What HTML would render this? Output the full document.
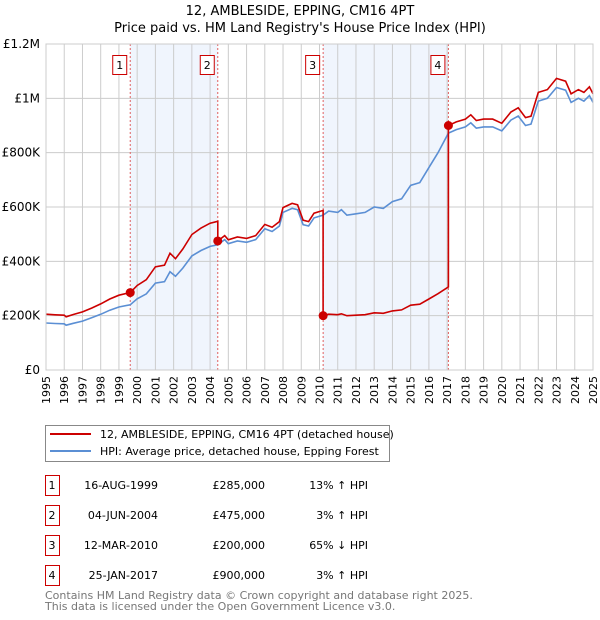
<!DOCTYPE html>
<html><head><meta charset="utf-8"><style>
body{margin:0;background:#fff;font-family:"Liberation Sans","DejaVu Sans",sans-serif;}
#wrap{position:relative;width:600px;height:620px;overflow:hidden}
</style></head><body>
<div id="wrap">
<svg id="svg" width="600" height="620" xmlns="http://www.w3.org/2000/svg" font-family="DejaVu Sans, Liberation Sans, sans-serif">
<text x="300" y="15" text-anchor="middle" font-size="13" fill="#000">12, AMBLESIDE, EPPING, CM16 4PT</text>
<text x="300" y="32" text-anchor="middle" font-size="13" fill="#000">Price paid vs. HM Land Registry's House Price Index (HPI)</text>
<g id="plot"></g>
<g>
<rect x="45.5" y="425.5" width="344" height="36" fill="#fff" stroke="#888"/>
<line x1="50" y1="434" x2="91" y2="434" stroke="#cc0000" stroke-width="2"/>
<text x="100" y="438" font-size="11">12, AMBLESIDE, EPPING, CM16 4PT (detached house)</text>
<line x1="50" y1="451" x2="91" y2="451" stroke="#5b8fd4" stroke-width="2"/>
<text x="100" y="455" font-size="11">HPI: Average price, detached house, Epping Forest</text>
</g>
<g id="table" font-size="11"></g>
<text x="45" y="599" font-size="11" fill="#777">Contains HM Land Registry data © Crown copyright and database right 2025.</text>
<text x="45" y="610" font-size="11" fill="#777">This data is licensed under the Open Government Licence v3.0.</text>
</svg>
</div>
<script>
const hpiYears=[1995,1995.5,1996,1996.1,1996.5,1997,1997.5,1998,1998.5,1999,1999.62,2000,2000.5,2001,2001.5,2001.8,2002.1,2002.5,2003,2003.5,2004,2004.42,2004.8,2005,2005.5,2006,2006.5,2007,2007.4,2007.8,2008,2008.5,2008.8,2009.1,2009.4,2009.7,2010.2,2010.5,2011,2011.2,2011.5,2012,2012.5,2013,2013.5,2014,2014.5,2015,2015.5,2016,2016.5,2017.07,2017.5,2018,2018.3,2018.6,2019,2019.5,2020,2020.5,2020.9,2021.3,2021.6,2022,2022.5,2023,2023.5,2023.8,2024.2,2024.5,2024.8,2025];
const hpiValues=[173,171,170,165,172,180,192,205,220,232,240,262,280,320,325,362,345,375,420,440,455,461,480,465,475,470,480,520,510,530,580,595,590,535,530,560,570,585,580,590,570,575,580,600,595,620,630,680,690,745,800,872,885,895,910,890,895,895,880,920,935,900,905,990,1000,1040,1030,985,1000,990,1010,985];
const saleYears=[1999.62,2004.42,2010.2,2017.07];
const salePrices=[285,475,200,900];
const saleLabels=["1","2","3","4"];
const saleDates=["16-AUG-1999","04-JUN-2004","12-MAR-2010","25-JAN-2017"];
const salePriceText=["£285,000","£475,000","£200,000","£900,000"];
const saleHpiText=["13% ↑ HPI","3% ↑ HPI","65% ↓ HPI","3% ↑ HPI"];
const yTicks=[0,200,400,600,800,1000,1200];
const yTickLabels=["£0","£200K","£400K","£600K","£800K","£1M","£1.2M"];
const xTicks=[1995,1996,1997,1998,1999,2000,2001,2002,2003,2004,2005,2006,2007,2008,2009,2010,2011,2012,2013,2014,2015,2016,2017,2018,2019,2020,2021,2022,2023,2024,2025];

const L=46,R=593,T=44,B=370;
const X=y=>L+(y-1995)/30*(R-L);
const Y=v=>B-v/1200*(B-T);
const NS="http://www.w3.org/2000/svg";
const plot=document.getElementById('plot');
function mk(tag,attrs,parent){const e=document.createElementNS(NS,tag);for(const k in attrs)e.setAttribute(k,attrs[k]);(parent||plot).appendChild(e);return e;}
function hpiAt(y){for(let i=1;i<hpiYears.length;i++){if(y<=hpiYears[i]){const t=(y-hpiYears[i-1])/(hpiYears[i]-hpiYears[i-1]);return hpiValues[i-1]+t*(hpiValues[i]-hpiValues[i-1]);}}return hpiValues[hpiValues.length-1];}

for(const [a,b] of [[0,1],[2,3]]){
 const r=mk('rect',{x:X(saleYears[a]),y:T,width:X(saleYears[b])-X(saleYears[a]),height:B-T,fill:'#f0f5fd'});
 
 
}
xTicks.forEach((t,i)=>{
 const l=mk('line',{x1:X(t),x2:X(t),y1:T,y2:B,stroke:'#cccccc','stroke-width':1});
 
 
 const tx=mk('text',{x:0,y:0,'font-size':11,'text-anchor':'end',transform:`translate(${X(t)+4},${B+6}) rotate(-90)`});
 tx.textContent=t;
 
 
});
yTicks.forEach((t,i)=>{
 const l=mk('line',{x1:L,x2:R,y1:Y(t),y2:Y(t),stroke:'#cccccc','stroke-width':1});
 
 
 const tx=mk('text',{x:L-6,y:Y(t)+4,'font-size':12,'text-anchor':'end'});
 tx.textContent=yTickLabels[i];
 
 
});
saleYears.forEach((s,i)=>{
 const l=mk('line',{x1:X(s),x2:X(s),y1:T,y2:B,stroke:'#e06060','stroke-width':1,'stroke-dasharray':'2,2'});
 
 
});
let d=hpiYears.map((y,i)=>(i?'L':'M')+X(y).toFixed(1)+','+Y(hpiValues[i]).toFixed(1)).join('');
const hp=mk('path',{d,fill:'none',stroke:'#5b8fd4','stroke-width':1.6});


const f0=salePrices[0]/hpiAt(saleYears[0]);
let all=[];
hpiYears.forEach((y,i)=>{
 let k=-1;for(let j=0;j<saleYears.length;j++)if(y>=saleYears[j])k=j;
 const f=k<0?f0:salePrices[k]/hpiAt(saleYears[k]);
 all.push([y,hpiValues[i]*f]);
});
saleYears.forEach((s,j)=>{
 const prevF=j===0?f0:salePrices[j-1]/hpiAt(saleYears[j-1]);
 all.push([s-0.0001,hpiAt(s)*prevF]);all.push([s,salePrices[j]]);
});
all.sort((a,b)=>a[0]-b[0]);
d=all.map((p,i)=>(i?'L':'M')+X(p[0]).toFixed(1)+','+Y(p[1]).toFixed(1)).join('');
const pp=mk('path',{d,fill:'none',stroke:'#cc0000','stroke-width':1.6});


saleYears.forEach((s,i)=>{
 const c=mk('circle',{cx:X(s),cy:Y(salePrices[i]),r:4.5,fill:'#cc0000'});
 
 
 const bx=mk('rect',{x:X(s)-17.5,y:55.5,width:14,height:19,fill:'#fff',stroke:'#cc0000'});
 
 
 const t=mk('text',{x:X(s)-10.5,y:69,'font-size':11,'text-anchor':'middle'});
 t.textContent=saleLabels[i];
 
 
});
const fr=mk('rect',{x:L,y:T,width:R-L,height:B-T,fill:'none',stroke:'#cccccc'});


const tb=document.getElementById('table');
saleLabels.forEach((lab,i)=>{
 const y0=495+i*30;
 const b=mk('rect',{x:45.5,y:y0-19.5,width:14,height:20,fill:'#fff',stroke:'#cc0000'},tb);
 
 
 const cells=[[52,lab,'middle'],[158,saleDates[i],'end'],[265,salePriceText[i],'end'],[368,saleHpiText[i],'end']];
 cells.forEach(c=>{
  const t=mk('text',{x:c[0],y:y0-6,'text-anchor':c[2]},tb);
  t.textContent=c[1];
  
  
 });
});
</script>
</body></html>
